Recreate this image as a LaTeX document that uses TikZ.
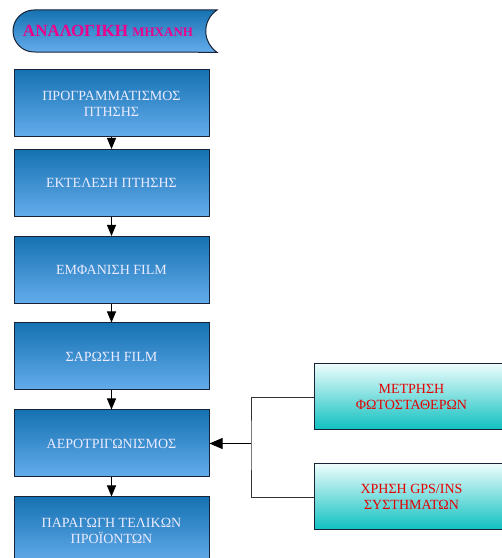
\documentclass[tikz,border=0pt]{standalone}
\usepackage{fontspec}
\setmainfont{Liberation Serif}
\usetikzlibrary{arrows.meta}
\definecolor{boxtop}{RGB}{22,114,178}
\definecolor{boxbot}{RGB}{100,172,236}
\definecolor{cyantop}{RGB}{236,252,252}
\definecolor{cyanbot}{RGB}{14,192,192}
\definecolor{edge}{RGB}{25,35,55}
\begin{document}
\begin{tikzpicture}[x=1pt,y=1pt,
  stage/.style={draw=edge, line width=1pt, top color=boxtop, bottom color=boxbot,
    minimum width=195pt, minimum height=67pt, align=center, text=white!92!blue,
    font=\fontsize{14}{16}\selectfont},
  extra/.style={draw=edge, line width=1pt, top color=cyantop, bottom color=cyanbot,
    minimum width=195pt, minimum height=66pt, align=center, text=red!90!black,
    font=\fontsize{14}{16}\selectfont},
  flow/.style={-{Triangle[width=9pt,length=11pt]}, line width=0.8pt, draw=black}]
\useasboundingbox (0,0) rectangle (502,558);
% title
\draw[draw=edge, line width=1pt, top color=boxtop, bottom color=boxbot]
  (34,548) -- (217,548) arc[start angle=124, end angle=236, radius=25.5]
  -- (34,506) arc[start angle=270, end angle=90, radius=21] -- cycle;
\node (title) at (108,527) {\textcolor{magenta}{\bfseries\fontsize{17}{18}\selectfont ΑΝΑΛΟΓΙΚΗ \fontsize{13}{14}\selectfont ΜΗΧΑΝΗ}};
% main chain
\node[stage] (plan) at (111.5,454.5) {ΠΡΟΓΡΑΜΜΑΤΙΣΜΟΣ\\ΠΤΗΣΗΣ};
\node[stage] (fly) at (111.5,375) {ΕΚΤΕΛΕΣΗ ΠΤΗΣΗΣ};
\node[stage] (dev) at (111.5,288) {ΕΜΦΑΝΙΣΗ FILM};
\node[stage] (scan) at (111.5,201.5) {ΣΑΡΩΣΗ FILM};
\node[stage] (aero) at (111.5,114.5) {ΑΕΡΟΤΡΙΓΩΝΙΣΜΟΣ};
\node[stage] (prod) at (111.5,27.5) {ΠΑΡΑΓΩΓΗ ΤΕΛΙΚΩΝ\\ΠΡΟΪΟΝΤΩΝ};
% side inputs
\node[extra] (gcp) at (411.5,161) {ΜΕΤΡΗΣΗ\\ΦΩΤΟΣΤΑΘΕΡΩΝ};
\node[extra] (gps) at (411.5,61) {ΧΡΗΣΗ GPS/INS\\ΣΥΣΤΗΜΑΤΩΝ};
\coordinate (join) at (251,114.5);
\draw[flow] (plan) -- (fly);
\draw[flow] (fly) -- (dev);
\draw[flow] (dev) -- (scan);
\draw[flow] (scan) -- (aero);
\draw[flow] (aero) -- (prod);
\draw[line width=0.8pt, draw=black!80] (gcp.west) -| (join) |- (gps.west);
\draw[flow, -{Triangle[width=11pt,length=13pt]}] (join) -- (aero.east);
\end{tikzpicture}
\end{document}
